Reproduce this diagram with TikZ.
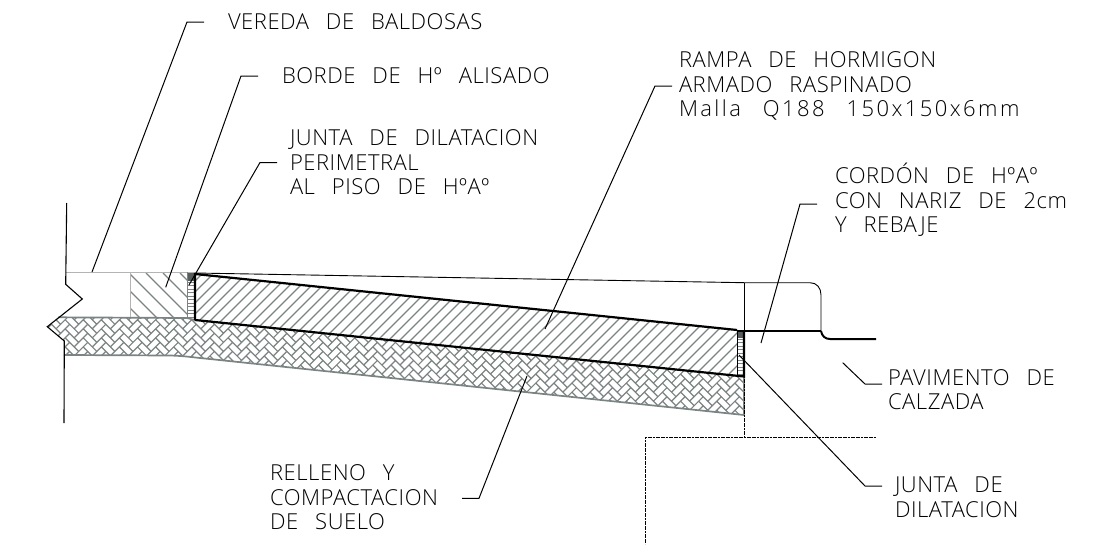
\documentclass[tikz,border=0pt]{standalone}
\usepackage{fontspec}
\setsansfont[WordSpace=2.7,LetterSpace=2.5]{Open Sans Light}
\definecolor{hatchgray}{HTML}{7B8383}
\definecolor{pale}{HTML}{B4B4B4}
\tikzset{
  label/.style={anchor=west, inner sep=0pt, align=left, font=\sffamily\fontsize{22}{24.5}\selectfont},
  leader/.style={draw, line width=1pt},
  hatch/.style={draw=hatchgray, line width=1.2pt},
  heavy/.style={draw, line width=2.2pt},
  fine/.style={draw, line width=0.9pt},
  footing/.style={draw, line width=0.9pt, dash pattern=on 2pt off 0.6pt}
}
\begin{document}
\begin{tikzpicture}[x=1pt,y=-1pt]
  \useasboundingbox (0,0) rectangle (1104,544);

  % soil
  \begin{scope}
    \clip (58.3,317.3) -- (47.3,326.7) -- (64.3,341) -- (64,355) -- (170,355.5)
      .. controls (185,356) and (190,357) .. (200,358) -- (744,415) -- (744,376)
      -- (195,320) -- (187,318) -- cycle;
    \begin{scope}[shift={(400,365)},rotate=45]
      \draw[hatch] \foreach \k [evaluate=\k as \s using {int(\k/2)}] in {-46,...,46} {
        \foreach \m in {-6,...,6} {
          ({6.4*\k+25.6*(\m-\s)},{-6.4*\k}) -- ({6.4*\k+25.6*(\m-\s)+19.2},{-6.4*\k})
          ({6.4+6.4*\k},{-6.4*\k-25.6*(\m-\s)}) -- ({6.4+6.4*\k},{-6.4*\k-25.6*(\m-\s)-19.2})
        }
      };
    \end{scope}
  \end{scope}
  \draw[hatch,line width=1.7pt] (58.3,317.3) -- (187,318) -- (195,320);
  \draw[hatch,line width=1.7pt] (64,355) -- (170,355.5)
      .. controls (185,356) and (190,357) .. (200,358) -- (744,415) -- (744,376);

  % ramp
  \begin{scope}
    \clip (195,274) -- (737,330) -- (737,376) -- (195,320) -- cycle;
    \draw[hatch] \foreach \i in {0,...,62} {
      ({85+11*\i},380) -- ({195+11*\i},270)
    };
  \end{scope}

  % edge of sidewalk
  \begin{scope}
    \clip (131,272) rectangle (187,318);
    \draw[hatch] \foreach \i in {-5,...,5} {
      ({146+17*\i},273) -- ({146+17*\i+60},333)
    };
  \end{scope}
  \draw[pale,line width=1.4pt] (66,272.3) -- (195,272.3);
  \draw[pale,line width=1.4pt] (130.7,272.3) -- (130.7,317);

  % joints
  \foreach \y in {282,285.5,...,319} {
    \draw[hatchgray,line width=0.9pt] (187,\y) -- (195,\y);
  }
  \foreach \y in {339,342.5,...,376} {
    \draw[hatchgray,line width=0.9pt] (737,\y) -- (744,\y);
  }
  \fill[hatchgray!70!black] (187,272.5) rectangle (195,281);
  \fill[hatchgray!70!black] (737,331) rectangle (744,338);
  \draw[hatchgray,line width=1pt] (187,272) -- (187,319);

  % outlines
  \draw[heavy] (195,320) -- (195,274) -- (737,330);
  \draw[heavy] (195,320) -- (744,376.5) -- (744,331);
  \draw[draw,line width=1pt] (737,330) -- (737,376);
  \draw[fine] (195,273) -- (744,282.7) -- (810,282.7)
     .. controls (817,282.7) and (821,288) .. (821,295) -- (821,331);
  \draw[draw,line width=1.5pt] (737,331) -- (821,331);
  \draw[draw,line width=2pt] (821,331) .. controls (822,336) and (825,339) .. (830,339) -- (876,339);
  \draw[fine] (744,282.7) -- (744,331);
  \draw[footing] (744,376) -- (744,437);
  \draw[footing] (876,437) -- (645,437) -- (645,544);

  % break line
  \draw[fine,line width=1.1pt] (66.7,203) -- (65.7,284.3) -- (82.3,299) -- (47.3,326.7)
     -- (64.3,341) -- (64,423);

  % labels
  \node[label,outer xsep=24pt] (vereda) at (204,22) {VEREDA DE BALDOSAS};
  \node[label,outer xsep=24pt] (borde) at (258,76) {BORDE DE Hº ALISADO};
  \node[label,outer xsep=13pt] (juntaper) at (277,162.5) {JUNTA DE DILATACION\\PERIMETRAL\\AL PISO DE HºAº};
  \node[label,outer xsep=7pt] (rampa) at (672,86) {RAMPA DE HORMIGON\\ARMADO RASPINADO\\\addfontfeature{LetterSpace=11}Malla Q188 150x150x6mm};
  \node[label,outer xsep=18pt] (cordon) at (817,200) {CORDÓN DE HºAº\\CON NARIZ DE 2cm\\Y REBAJE};
  \node[label,outer xsep=6pt] (pavimento) at (882,389.5) {PAVIMENTO DE\\CALZADA};
  \node[label,outer xsep=13pt] (juntadil) at (882,497) {JUNTA DE\\DILATACION};
  \node[label,anchor=east,outer xsep=24pt] (relleno) at (462,497.5) {RELLENO Y\\COMPACTACION\\DE SUELO};

  \coordinate (veredatip) at (92,272);
  \coordinate (bordetip) at (165.7,287.3);
  \coordinate (juntapertip) at (189,285);
  \coordinate (rampatip) at (545,329);
  \coordinate (cordontip) at (761,343);
  \coordinate (pavimentotip) at (842.7,362.7);
  \coordinate (juntadiltip) at (739,355);
  \coordinate (rellenotip) at (527,376);

  \draw[leader] (vereda.west) -- ++(-17,0) -- (veredatip);
  \draw[leader] (borde.west) -- ++(-17,0) -- (bordetip);
  \draw[leader] (juntaper.west) -- ++(-17,0) -- (juntapertip);
  \draw[leader] (rampa.west) -- ++(-17,0) -- (rampatip);
  \draw[leader] ([yshift=-4pt]cordon.west) -- ++(-17,0) -- (cordontip);
  \draw[leader] ([yshift=5.5pt]pavimento.west) -- ++(-17,0) -- (pavimentotip);
  \draw[leader] ([yshift=11pt]juntadil.west) -- ++(-17,0) -- (juntadiltip);
  \draw[leader] ([yshift=-0.8pt]relleno.east) -- ++(17,0) -- (rellenotip);
\end{tikzpicture}
\end{document}
